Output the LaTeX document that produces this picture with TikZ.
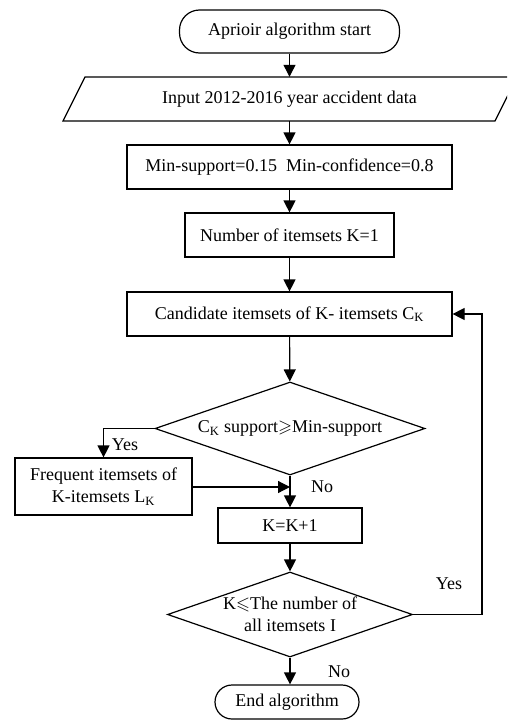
\documentclass[tikz,border=0pt]{standalone}
\usepackage{amssymb}
\usepackage{fontspec}
\setmainfont{Liberation Serif}
\usetikzlibrary{shapes.geometric,arrows.meta}
\newcommand{\subK}{\textsubscript{K}}
\begin{document}
\begin{tikzpicture}[x=1pt,y=-1pt,
  every node/.style={font=\fontsize{18}{22}\selectfont, inner sep=0pt, align=center},
  box/.style={draw, line width=1.2pt, rectangle},
  term/.style={draw, line width=1.2pt, rectangle, rounded corners=20pt},
  dec/.style={draw, line width=1.2pt, diamond, aspect=2.9},
  lbl/.style={font=\fontsize{18}{22}\selectfont},
  flow/.style={line width=1.2pt, -{Triangle[length=12pt,width=12pt]}},
  line/.style={line width=1.2pt}]
\useasboundingbox (0,0) rectangle (507,720);

\node[term, minimum width=220pt, minimum height=43pt] (start) at (289.5,31.5) {Aprioir algorithm start};

\begin{scope}
\clip (0,0) rectangle (507,720);
\draw[line width=1.2pt] (63,121) -- (85,77) -- (517,77) -- (495,121) -- cycle;
\end{scope}
\node[minimum width=300pt, minimum height=44pt] (input) at (289.5,99) {Input 2012-2016 year accident data};

\node[box, minimum width=325pt, minimum height=44pt] (param) at (289.5,167) {Min-support=0.15\ \ Min-confidence=0.8};
\node[box, minimum width=209pt, minimum height=44pt] (num) at (289.5,235) {Number of itemsets K=1};
\node[box, minimum width=325pt, minimum height=44pt] (cand) at (289.5,314) {Candidate itemsets of K- itemsets C\subK};
\node[dec, minimum width=270pt, minimum height=93pt] (d1) at (290,428.5) {C\subK\ support$\geqslant$Min-support};
\node[box, minimum width=177pt, minimum height=57pt] (freq) at (103.5,486.5) {Frequent itemsets of\\K-itemsets L\subK};
\node[box, minimum width=144pt, minimum height=35pt] (inc) at (290,525.5) {K=K+1};
\node[dec, minimum width=245pt, minimum height=85pt] (d2) at (290,614.5) {K$\leqslant$The number of\\all itemsets I};
\node[term, minimum width=144pt, minimum height=34pt, rounded corners=17pt] (end) at (287,702) {End algorithm};

\coordinate (m1) at (290,487);
\coordinate (loop) at (482,614.5);

\draw[flow] (start) -- (input);
\draw[flow] (input) -- (param);
\draw[flow] (param) -- (num);
\draw[flow] (num) -- (cand);
\draw[flow] (cand) -- (d1);
\draw[flow] (d1.west) -| (freq.north);
\draw[flow] (freq.east |- m1) -- (m1);
\draw[flow] (d1.south) -- (inc.north);
\draw[flow] (inc) -- (d2);
\draw[line] (d2.east) -- (loop);
\draw[flow] (loop) |- (cand.east);
\draw[flow] (d2.south) -- (d2.south |- end.north);

\node[lbl] (yes1) at (125,445) {Yes};
\node[lbl] (no1) at (322,487) {No};
\node[lbl] (yes2) at (449,584) {Yes};
\node[lbl] (no2) at (339,672) {No};
\end{tikzpicture}
\end{document}
